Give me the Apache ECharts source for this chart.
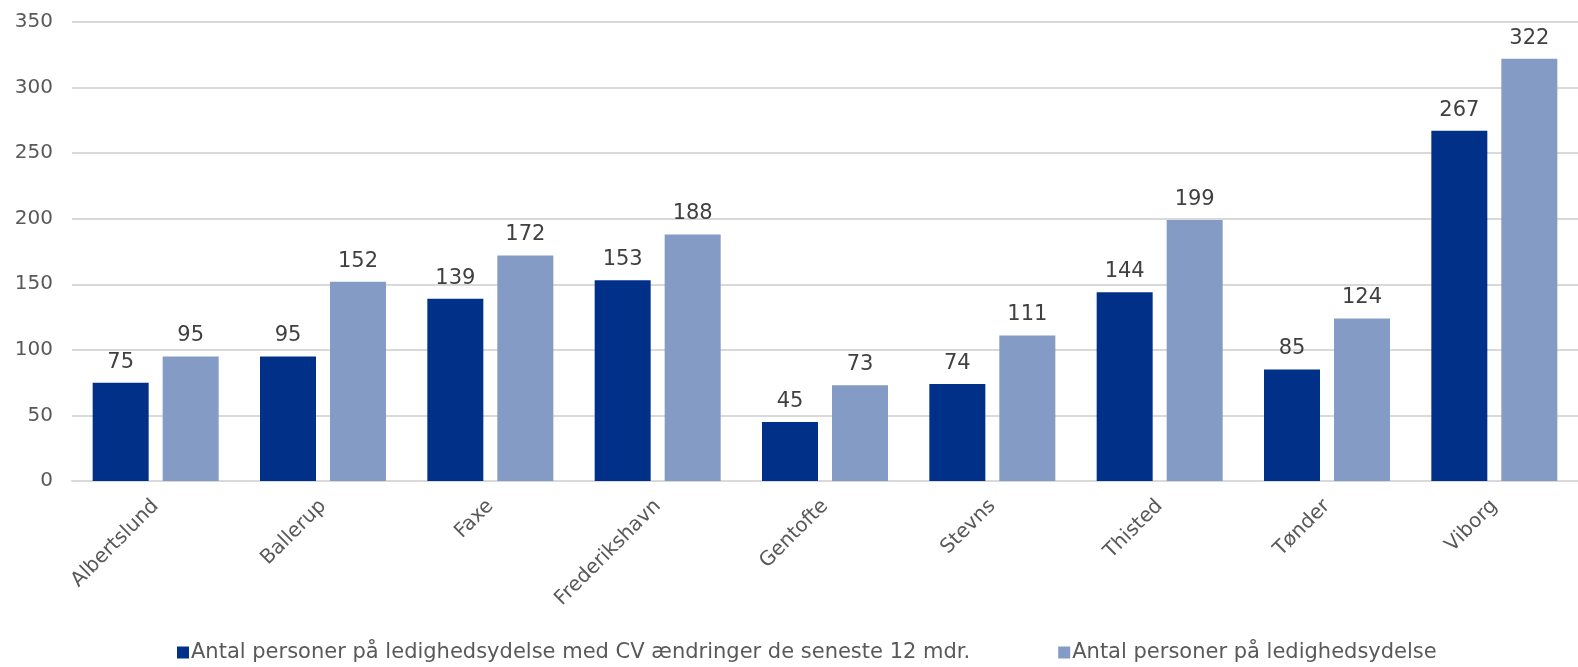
<!DOCTYPE html>
<html>
<head>
<meta charset="utf-8">
<script src="https://cdn.jsdelivr.net/npm/echarts@6/dist/echarts.min.js"></script>
<style>
  html, body { margin: 0; padding: 0; background: #fff; }
  #chart { width: 1578px; height: 667px; }
</style>
</head>
<body>
<div id="chart"></div>
<script>
const municipalities = ["Albertslund", "Ballerup", "Faxe", "Frederikshavn", "Gentofte", "Stevns", "Thisted", "Tønder", "Viborg"];
const cvChanges = [75, 95, 139, 153, 45, 74, 144, 85, 267];
const totalPersons = [95, 152, 172, 188, 73, 111, 199, 124, 322];
const seriesNames = [
  "Antal personer på ledighedsydelse med CV ændringer de seneste 12 mdr.",
  "Antal personer på ledighedsydelse"
];

const chart = echarts.init(document.getElementById("chart"));
const font = "'DejaVu Sans', Verdana, sans-serif";

const labelStyle = {
  show: true,
  position: "top",
  distance: 10,
  color: "#404040",
  fontSize: 21,
  fontFamily: font
};

chart.setOption({
  animation: false,
  textStyle: { fontFamily: font },
  grid: { left: 72, right: 0, top: 22, bottom: 186, containLabel: false },
  legend: {
    top: 642,
    left: 177,
    padding: 0,
    itemWidth: 12,
    itemHeight: 12,
    itemGap: 88,
    icon: "rect",
    textStyle: { color: "#595959", fontSize: 21, fontFamily: font, padding: [0, 0, 0, -3] },
    data: seriesNames
  },
  xAxis: {
    type: "category",
    data: municipalities,
    axisTick: { show: false },
    axisLine: { lineStyle: { color: "#d9d9d9", width: 2 } },
    axisLabel: {
      rotate: 45,
      color: "#595959",
      fontSize: 20,
      fontFamily: font,
      margin: 22,
      interval: 0
    }
  },
  yAxis: {
    type: "value",
    min: 0,
    max: 350,
    interval: 50,
    axisLine: { show: false },
    axisTick: { show: false },
    splitLine: { lineStyle: { color: "#d9d9d9", width: 2 } },
    axisLabel: { color: "#595959", fontSize: 20, fontFamily: font, margin: 19 }
  },
  series: [
    {
      name: seriesNames[0],
      type: "bar",
      data: cvChanges,
      barWidth: 56,
      barGap: "25%",
      itemStyle: { color: "#003087" },
      label: labelStyle
    },
    {
      name: seriesNames[1],
      type: "bar",
      data: totalPersons,
      barWidth: 56,
      itemStyle: { color: "#839bc5" },
      label: labelStyle
    }
  ]
});
</script>
</body>
</html>
